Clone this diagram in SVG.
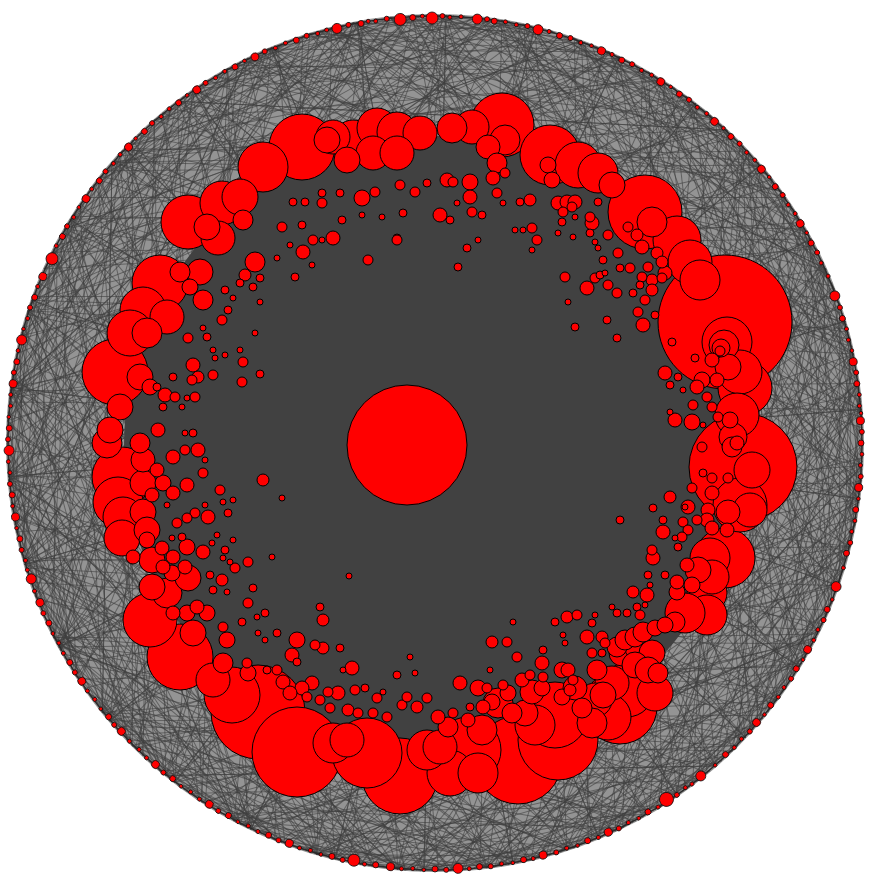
<svg xmlns="http://www.w3.org/2000/svg" xmlns:xlink="http://www.w3.org/1999/xlink" width="870" height="880" viewBox="0 0 870 880">
<style>
.nodes circle{fill:#ff0000;stroke:#000;stroke-width:1}
.rim circle{fill:#ff0000;stroke:#111;stroke-width:0.8}
</style>
<defs>
<g id="chA">
<line x1="428" y1="0" x2="396.8" y2="160.3"/><line x1="428" y1="0" x2="291.9" y2="313"/><line x1="428" y1="0" x2="125.1" y2="409.3"/><line x1="428" y1="0" x2="366.9" y2="-220.4"/><line x1="428" y1="0" x2="226.8" y2="-362.9"/><line x1="428" y1="0" x2="-44.7" y2="-425.7"/><line x1="428" y1="0" x2="-200.9" y2="377.9"/>
</g>
<g id="chB">
<line x1="428" y1="0" x2="413.4" y2="110.8"/><line x1="428" y1="0" x2="337.3" y2="263.5"/><line x1="428" y1="0" x2="200.9" y2="377.9"/><line x1="428" y1="0" x2="381.3" y2="-194.3"/><line x1="428" y1="0" x2="263.5" y2="-337.3"/><line x1="428" y1="0" x2="37.3" y2="-426.4"/><line x1="428" y1="0" x2="-327.9" y2="275.1"/>
</g>
<g id="chC">
<line x1="428" y1="0" x2="377.9" y2="200.9"/><line x1="428" y1="0" x2="245.5" y2="350.6"/><line x1="428" y1="0" x2="0" y2="428"/><line x1="428" y1="0" x2="404.7" y2="-139.3"/><line x1="428" y1="0" x2="318.1" y2="-286.4"/><line x1="428" y1="0" x2="146.4" y2="-402.2"/><line x1="428" y1="0" x2="-245.5" y2="-350.6"/>
</g>
<g id="chD">
<line x1="428" y1="0" x2="74.3" y2="421.5"/><line x1="428" y1="0" x2="-74.3" y2="421.5"/><line x1="428" y1="0" x2="-302.6" y2="302.6"/><line x1="428" y1="0" x2="-413.4" y2="110.8"/><line x1="428" y1="0" x2="74.3" y2="-421.5"/><line x1="428" y1="0" x2="-146.4" y2="-402.2"/><line x1="428" y1="0" x2="-370.7" y2="-214"/>
</g>
<g id="chE">
<line x1="428" y1="0" x2="-37.3" y2="426.4"/><line x1="428" y1="0" x2="-180.9" y2="387.9"/><line x1="428" y1="0" x2="-350.6" y2="245.5"/><line x1="428" y1="0" x2="-428" y2="0"/><line x1="428" y1="0" x2="-74.3" y2="-421.5"/><line x1="428" y1="0" x2="-245.5" y2="-350.6"/><line x1="428" y1="0" x2="-421.5" y2="-74.3"/>
</g>
</defs>
<rect width="870" height="880" fill="#fff"/>
<g id="connectors">
<circle cx="435" cy="443" r="429" fill="#949494"/>
<g stroke="#404040" stroke-opacity="0.6" stroke-width="1" fill="none">
<use href="#chA" transform="translate(435 443) rotate(0)"/><use href="#chA" transform="translate(435 443) rotate(17)"/><use href="#chA" transform="translate(435 443) rotate(35)"/><use href="#chA" transform="translate(435 443) rotate(52)"/><use href="#chA" transform="translate(435 443) rotate(71)"/><use href="#chA" transform="translate(435 443) rotate(88)"/><use href="#chA" transform="translate(435 443) rotate(106)"/><use href="#chA" transform="translate(435 443) rotate(123)"/><use href="#chA" transform="translate(435 443) rotate(141)"/><use href="#chA" transform="translate(435 443) rotate(159)"/><use href="#chA" transform="translate(435 443) rotate(176)"/><use href="#chA" transform="translate(435 443) rotate(194)"/><use href="#chA" transform="translate(435 443) rotate(212)"/><use href="#chA" transform="translate(435 443) rotate(229)"/><use href="#chA" transform="translate(435 443) rotate(247)"/><use href="#chA" transform="translate(435 443) rotate(264)"/><use href="#chA" transform="translate(435 443) rotate(282)"/><use href="#chA" transform="translate(435 443) rotate(300)"/><use href="#chA" transform="translate(435 443) rotate(317)"/><use href="#chA" transform="translate(435 443) rotate(335)"/><use href="#chA" transform="translate(435 443) rotate(352)"/>
<use href="#chB" transform="translate(435 443) rotate(5)"/><use href="#chB" transform="translate(435 443) rotate(23)"/><use href="#chB" transform="translate(435 443) rotate(41)"/><use href="#chB" transform="translate(435 443) rotate(58)"/><use href="#chB" transform="translate(435 443) rotate(77)"/><use href="#chB" transform="translate(435 443) rotate(94)"/><use href="#chB" transform="translate(435 443) rotate(112)"/><use href="#chB" transform="translate(435 443) rotate(130)"/><use href="#chB" transform="translate(435 443) rotate(147)"/><use href="#chB" transform="translate(435 443) rotate(165)"/><use href="#chB" transform="translate(435 443) rotate(183)"/><use href="#chB" transform="translate(435 443) rotate(200)"/><use href="#chB" transform="translate(435 443) rotate(218)"/><use href="#chB" transform="translate(435 443) rotate(236)"/><use href="#chB" transform="translate(435 443) rotate(253)"/><use href="#chB" transform="translate(435 443) rotate(271)"/><use href="#chB" transform="translate(435 443) rotate(289)"/><use href="#chB" transform="translate(435 443) rotate(306)"/><use href="#chB" transform="translate(435 443) rotate(324)"/><use href="#chB" transform="translate(435 443) rotate(341)"/>
<use href="#chC" transform="translate(435 443) rotate(11)"/><use href="#chC" transform="translate(435 443) rotate(29)"/><use href="#chC" transform="translate(435 443) rotate(46)"/><use href="#chC" transform="translate(435 443) rotate(64)"/><use href="#chC" transform="translate(435 443) rotate(82)"/><use href="#chC" transform="translate(435 443) rotate(100)"/><use href="#chC" transform="translate(435 443) rotate(117)"/><use href="#chC" transform="translate(435 443) rotate(135)"/><use href="#chC" transform="translate(435 443) rotate(153)"/><use href="#chC" transform="translate(435 443) rotate(170)"/><use href="#chC" transform="translate(435 443) rotate(188)"/><use href="#chC" transform="translate(435 443) rotate(206)"/><use href="#chC" transform="translate(435 443) rotate(223)"/><use href="#chC" transform="translate(435 443) rotate(241)"/><use href="#chC" transform="translate(435 443) rotate(259)"/><use href="#chC" transform="translate(435 443) rotate(276)"/><use href="#chC" transform="translate(435 443) rotate(294)"/><use href="#chC" transform="translate(435 443) rotate(311)"/><use href="#chC" transform="translate(435 443) rotate(329)"/><use href="#chC" transform="translate(435 443) rotate(346)"/>
<use href="#chD" transform="translate(435 443) rotate(3)"/><use href="#chD" transform="translate(435 443) rotate(14)"/><use href="#chD" transform="translate(435 443) rotate(26)"/><use href="#chD" transform="translate(435 443) rotate(37)"/><use href="#chD" transform="translate(435 443) rotate(49)"/><use href="#chD" transform="translate(435 443) rotate(60)"/><use href="#chD" transform="translate(435 443) rotate(72)"/><use href="#chD" transform="translate(435 443) rotate(83)"/><use href="#chD" transform="translate(435 443) rotate(95)"/><use href="#chD" transform="translate(435 443) rotate(106)"/><use href="#chD" transform="translate(435 443) rotate(118)"/><use href="#chD" transform="translate(435 443) rotate(129)"/><use href="#chD" transform="translate(435 443) rotate(141)"/><use href="#chD" transform="translate(435 443) rotate(152)"/><use href="#chD" transform="translate(435 443) rotate(164)"/><use href="#chD" transform="translate(435 443) rotate(175)"/><use href="#chD" transform="translate(435 443) rotate(187)"/><use href="#chD" transform="translate(435 443) rotate(198)"/><use href="#chD" transform="translate(435 443) rotate(210)"/><use href="#chD" transform="translate(435 443) rotate(221)"/><use href="#chD" transform="translate(435 443) rotate(233)"/><use href="#chD" transform="translate(435 443) rotate(244)"/><use href="#chD" transform="translate(435 443) rotate(256)"/><use href="#chD" transform="translate(435 443) rotate(267)"/><use href="#chD" transform="translate(435 443) rotate(279)"/><use href="#chD" transform="translate(435 443) rotate(290)"/><use href="#chD" transform="translate(435 443) rotate(302)"/><use href="#chD" transform="translate(435 443) rotate(313)"/><use href="#chD" transform="translate(435 443) rotate(325)"/><use href="#chD" transform="translate(435 443) rotate(336)"/><use href="#chD" transform="translate(435 443) rotate(348)"/>
<use href="#chE" transform="translate(435 443) rotate(7.5)"/><use href="#chE" transform="translate(435 443) rotate(19.5)"/><use href="#chE" transform="translate(435 443) rotate(31.5)"/><use href="#chE" transform="translate(435 443) rotate(43.5)"/><use href="#chE" transform="translate(435 443) rotate(55.5)"/><use href="#chE" transform="translate(435 443) rotate(67.5)"/><use href="#chE" transform="translate(435 443) rotate(79.5)"/><use href="#chE" transform="translate(435 443) rotate(91.5)"/><use href="#chE" transform="translate(435 443) rotate(103.5)"/><use href="#chE" transform="translate(435 443) rotate(115.5)"/><use href="#chE" transform="translate(435 443) rotate(127.5)"/><use href="#chE" transform="translate(435 443) rotate(139.5)"/><use href="#chE" transform="translate(435 443) rotate(151.5)"/><use href="#chE" transform="translate(435 443) rotate(163.5)"/><use href="#chE" transform="translate(435 443) rotate(175.5)"/><use href="#chE" transform="translate(435 443) rotate(187.5)"/><use href="#chE" transform="translate(435 443) rotate(199.5)"/><use href="#chE" transform="translate(435 443) rotate(211.5)"/><use href="#chE" transform="translate(435 443) rotate(223.5)"/><use href="#chE" transform="translate(435 443) rotate(235.5)"/><use href="#chE" transform="translate(435 443) rotate(247.5)"/><use href="#chE" transform="translate(435 443) rotate(259.5)"/><use href="#chE" transform="translate(435 443) rotate(271.5)"/><use href="#chE" transform="translate(435 443) rotate(283.5)"/><use href="#chE" transform="translate(435 443) rotate(295.5)"/><use href="#chE" transform="translate(435 443) rotate(307.5)"/><use href="#chE" transform="translate(435 443) rotate(319.5)"/><use href="#chE" transform="translate(435 443) rotate(331.5)"/><use href="#chE" transform="translate(435 443) rotate(343.5)"/><use href="#chE" transform="translate(435 443) rotate(355.5)"/>
</g>
<circle cx="434" cy="446" r="310" fill="#414141"/>
<circle cx="435" cy="443" r="427" fill="none" stroke="#2a2a2a" stroke-width="1.4"/>
</g>
<g class="rim">
<g id="r1" transform="rotate(0 435 443)"><circle cx="861" cy="443" r="3"/></g>
<g id="r2" transform="rotate(3 435 443)"><circle cx="861" cy="443" r="2"/></g>
<g id="r3" transform="rotate(6 435 443)"><circle cx="861" cy="443" r="4"/></g>
<g id="r4" transform="rotate(9 435 443)"><circle cx="861" cy="443" r="3"/></g>
<g id="r5" transform="rotate(12 435 443)"><circle cx="861" cy="443" r="2"/></g>
<g id="r6" transform="rotate(15 435 443)"><circle cx="861" cy="443" r="3"/></g>
<g id="r7" transform="rotate(19.7 435 443)"><circle cx="861" cy="443" r="5"/></g>
<g id="r8" transform="rotate(23 435 443)"><circle cx="861" cy="443" r="3"/></g>
<g id="r9" transform="rotate(26 435 443)"><circle cx="861" cy="443" r="2"/></g>
<g id="r10" transform="rotate(29 435 443)"><circle cx="861" cy="443" r="4"/></g>
<g id="r11" transform="rotate(32 435 443)"><circle cx="861" cy="443" r="3"/></g>
<g id="r12" transform="rotate(35 435 443)"><circle cx="861" cy="443" r="2"/></g>
<g id="r13" transform="rotate(38 435 443)"><circle cx="861" cy="443" r="3"/></g>
<g id="r14" transform="rotate(41 435 443)"><circle cx="861" cy="443" r="4"/></g>
<g id="r15" transform="rotate(44 435 443)"><circle cx="861" cy="443" r="2"/></g>
<g id="r16" transform="rotate(47 435 443)"><circle cx="861" cy="443" r="3"/></g>
<g id="r17" transform="rotate(51.4 435 443)"><circle cx="861" cy="443" r="5"/></g>
<g id="r18" transform="rotate(54 435 443)"><circle cx="861" cy="443" r="2"/></g>
<g id="r19" transform="rotate(57 435 443)"><circle cx="860" cy="443" r="7"/></g>
<g id="r20" transform="rotate(60 435 443)"><circle cx="861" cy="443" r="3"/></g>
<g id="r21" transform="rotate(63 435 443)"><circle cx="861" cy="443" r="2"/></g>
<g id="r22" transform="rotate(66 435 443)"><circle cx="861" cy="443" r="4"/></g>
<g id="r23" transform="rotate(69 435 443)"><circle cx="861" cy="443" r="3"/></g>
<g id="r24" transform="rotate(72 435 443)"><circle cx="861" cy="443" r="2"/></g>
<g id="r25" transform="rotate(75.3 435 443)"><circle cx="861" cy="443" r="4"/></g>
<g id="r26" transform="rotate(78 435 443)"><circle cx="861" cy="443" r="3"/></g>
<g id="r27" transform="rotate(81 435 443)"><circle cx="861" cy="443" r="2"/></g>
<g id="r28" transform="rotate(84 435 443)"><circle cx="861" cy="443" r="3"/></g>
<g id="r29" transform="rotate(86.9 435 443)"><circle cx="861" cy="443" r="5"/></g>
<g id="r30" transform="rotate(90 435 443)"><circle cx="861" cy="443" r="3"/></g>
<g id="r31" transform="rotate(93 435 443)"><circle cx="861" cy="443" r="2"/></g>
<g id="r32" transform="rotate(96 435 443)"><circle cx="861" cy="443" r="4"/></g>
<g id="r33" transform="rotate(98 435 443)"><circle cx="861" cy="443" r="3"/></g>
<g id="r34" transform="rotate(101 435 443)"><circle cx="860" cy="443" r="6"/></g>
<g id="r35" transform="rotate(104 435 443)"><circle cx="861" cy="443" r="3"/></g>
<g id="r36" transform="rotate(107 435 443)"><circle cx="861" cy="443" r="2"/></g>
<g id="r37" transform="rotate(110 435 443)"><circle cx="861" cy="443" r="4"/></g>
<g id="r38" transform="rotate(113 435 443)"><circle cx="861" cy="443" r="3"/></g>
<g id="r39" transform="rotate(116 435 443)"><circle cx="861" cy="443" r="2"/></g>
<g id="r40" transform="rotate(119 435 443)"><circle cx="861" cy="443" r="3"/></g>
<g id="r41" transform="rotate(122 435 443)"><circle cx="861" cy="443" r="4"/></g>
<g id="r42" transform="rotate(125 435 443)"><circle cx="861" cy="443" r="2"/></g>
<g id="r43" transform="rotate(128 435 443)"><circle cx="861" cy="443" r="3"/></g>
<g id="r44" transform="rotate(131 435 443)"><circle cx="861" cy="443" r="4"/></g>
<g id="r45" transform="rotate(134 435 443)"><circle cx="861" cy="443" r="2"/></g>
<g id="r46" transform="rotate(137.4 435 443)"><circle cx="861" cy="443" r="4"/></g>
<g id="r47" transform="rotate(140 435 443)"><circle cx="861" cy="443" r="3"/></g>
<g id="r48" transform="rotate(143 435 443)"><circle cx="861" cy="443" r="2"/></g>
<g id="r49" transform="rotate(146 435 443)"><circle cx="861" cy="443" r="4"/></g>
<g id="r50" transform="rotate(149 435 443)"><circle cx="861" cy="443" r="3"/></g>
<g id="r51" transform="rotate(152 435 443)"><circle cx="861" cy="443" r="2"/></g>
<g id="r52" transform="rotate(155 435 443)"><circle cx="861" cy="443" r="3"/></g>
<g id="r53" transform="rotate(158 435 443)"><circle cx="861" cy="443" r="4"/></g>
<g id="r54" transform="rotate(161.4 435 443)"><circle cx="861" cy="443" r="5"/></g>
<g id="r55" transform="rotate(164 435 443)"><circle cx="861" cy="443" r="2"/></g>
<g id="r56" transform="rotate(167 435 443)"><circle cx="861" cy="443" r="3"/></g>
<g id="r57" transform="rotate(170 435 443)"><circle cx="861" cy="443" r="4"/></g>
<g id="r58" transform="rotate(173 435 443)"><circle cx="861" cy="443" r="3"/></g>
<g id="r59" transform="rotate(176 435 443)"><circle cx="861" cy="443" r="2"/></g>
<g id="r60" transform="rotate(179 435 443)"><circle cx="861" cy="443" r="5"/></g>
<g id="r61" transform="rotate(182 435 443)"><circle cx="861" cy="443" r="3"/></g>
<g id="r62" transform="rotate(185 435 443)"><circle cx="861" cy="443" r="2"/></g>
<g id="r63" transform="rotate(188 435 443)"><circle cx="861" cy="443" r="4"/></g>
<g id="r64" transform="rotate(191 435 443)"><circle cx="861" cy="443" r="3"/></g>
<g id="r65" transform="rotate(194 435 443)"><circle cx="861" cy="443" r="5"/></g>
<g id="r66" transform="rotate(197 435 443)"><circle cx="861" cy="443" r="2"/></g>
<g id="r67" transform="rotate(200 435 443)"><circle cx="861" cy="443" r="3"/></g>
<g id="r68" transform="rotate(203 435 443)"><circle cx="861" cy="443" r="4"/></g>
<g id="r69" transform="rotate(205.7 435 443)"><circle cx="860" cy="443" r="6"/></g>
<g id="r70" transform="rotate(209 435 443)"><circle cx="861" cy="443" r="3"/></g>
<g id="r71" transform="rotate(212 435 443)"><circle cx="861" cy="443" r="2"/></g>
<g id="r72" transform="rotate(215 435 443)"><circle cx="861" cy="443" r="4"/></g>
<g id="r73" transform="rotate(218 435 443)"><circle cx="861" cy="443" r="3"/></g>
<g id="r74" transform="rotate(221 435 443)"><circle cx="861" cy="443" r="2"/></g>
<g id="r75" transform="rotate(224 435 443)"><circle cx="861" cy="443" r="4"/></g>
<g id="r76" transform="rotate(227 435 443)"><circle cx="861" cy="443" r="3"/></g>
<g id="r77" transform="rotate(230 435 443)"><circle cx="861" cy="443" r="2"/></g>
<g id="r78" transform="rotate(233 435 443)"><circle cx="861" cy="443" r="3"/></g>
<g id="r79" transform="rotate(236 435 443)"><circle cx="861" cy="443" r="4"/></g>
<g id="r80" transform="rotate(239 435 443)"><circle cx="861" cy="443" r="2"/></g>
<g id="r81" transform="rotate(242 435 443)"><circle cx="861" cy="443" r="3"/></g>
<g id="r82" transform="rotate(245 435 443)"><circle cx="861" cy="443" r="4"/></g>
<g id="r83" transform="rotate(248 435 443)"><circle cx="861" cy="443" r="2"/></g>
<g id="r84" transform="rotate(251 435 443)"><circle cx="861" cy="443" r="3"/></g>
<g id="r85" transform="rotate(254 435 443)"><circle cx="861" cy="443" r="2"/></g>
<g id="r86" transform="rotate(256.7 435 443)"><circle cx="861" cy="443" r="5"/></g>
<g id="r87" transform="rotate(260 435 443)"><circle cx="861" cy="443" r="3"/></g>
<g id="r88" transform="rotate(262 435 443)"><circle cx="861" cy="443" r="2"/></g>
<g id="r89" transform="rotate(265.3 435 443)"><circle cx="860" cy="443" r="6"/></g>
<g id="r90" transform="rotate(267 435 443)"><circle cx="861" cy="443" r="3"/></g>
<g id="r91" transform="rotate(269.6 435 443)"><circle cx="860" cy="443" r="6"/></g>
<g id="r92" transform="rotate(272 435 443)"><circle cx="861" cy="443" r="2"/></g>
<g id="r93" transform="rotate(275.7 435 443)"><circle cx="861" cy="443" r="5"/></g>
<g id="r94" transform="rotate(278 435 443)"><circle cx="861" cy="443" r="3"/></g>
<g id="r95" transform="rotate(281 435 443)"><circle cx="861" cy="443" r="2"/></g>
<g id="r96" transform="rotate(284 435 443)"><circle cx="861" cy="443" r="5"/></g>
<g id="r97" transform="rotate(287 435 443)"><circle cx="861" cy="443" r="3"/></g>
<g id="r98" transform="rotate(290 435 443)"><circle cx="861" cy="443" r="2"/></g>
<g id="r99" transform="rotate(293 435 443)"><circle cx="861" cy="443" r="4"/></g>
<g id="r100" transform="rotate(296 435 443)"><circle cx="861" cy="443" r="3"/></g>
<g id="r101" transform="rotate(299 435 443)"><circle cx="861" cy="443" r="2"/></g>
<g id="r102" transform="rotate(302 435 443)"><circle cx="861" cy="443" r="4"/></g>
<g id="r103" transform="rotate(305 435 443)"><circle cx="861" cy="443" r="3"/></g>
<g id="r104" transform="rotate(308 435 443)"><circle cx="861" cy="443" r="2"/></g>
<g id="r105" transform="rotate(311 435 443)"><circle cx="861" cy="443" r="4"/></g>
<g id="r106" transform="rotate(314 435 443)"><circle cx="861" cy="443" r="3"/></g>
<g id="r107" transform="rotate(317 435 443)"><circle cx="861" cy="443" r="2"/></g>
<g id="r108" transform="rotate(320 435 443)"><circle cx="861" cy="443" r="4"/></g>
<g id="r109" transform="rotate(323 435 443)"><circle cx="861" cy="443" r="3"/></g>
<g id="r110" transform="rotate(326 435 443)"><circle cx="861" cy="443" r="2"/></g>
<g id="r111" transform="rotate(329 435 443)"><circle cx="861" cy="443" r="4"/></g>
<g id="r112" transform="rotate(332 435 443)"><circle cx="861" cy="443" r="3"/></g>
<g id="r113" transform="rotate(335 435 443)"><circle cx="861" cy="443" r="2"/></g>
<g id="r114" transform="rotate(339.8 435 443)"><circle cx="861" cy="443" r="5"/></g>
<g id="r115" transform="rotate(343 435 443)"><circle cx="861" cy="443" r="3"/></g>
<g id="r116" transform="rotate(346 435 443)"><circle cx="861" cy="443" r="2"/></g>
<g id="r117" transform="rotate(349 435 443)"><circle cx="861" cy="443" r="4"/></g>
<g id="r118" transform="rotate(352 435 443)"><circle cx="861" cy="443" r="3"/></g>
<g id="r119" transform="rotate(355 435 443)"><circle cx="861" cy="443" r="2"/></g>
<g id="r120" transform="rotate(357 435 443)"><circle cx="861" cy="443" r="4"/></g>
<g id="s1" transform="rotate(1.5 435 443)"><circle cx="862" cy="443" r="2"/></g>
<g id="s2" transform="rotate(4.5 435 443)"><circle cx="862" cy="443" r="2.5"/></g>
<g id="s3" transform="rotate(7.5 435 443)"><circle cx="862" cy="443" r="1.8"/></g>
<g id="s4" transform="rotate(10.5 435 443)"><circle cx="862" cy="443" r="2"/></g>
<g id="s5" transform="rotate(13.5 435 443)"><circle cx="862" cy="443" r="2.5"/></g>
<g id="s6" transform="rotate(17 435 443)"><circle cx="862" cy="443" r="2"/></g>
<g id="s7" transform="rotate(21.5 435 443)"><circle cx="862" cy="443" r="1.8"/></g>
<g id="s8" transform="rotate(24.5 435 443)"><circle cx="862" cy="443" r="2.5"/></g>
<g id="s9" transform="rotate(27.5 435 443)"><circle cx="862" cy="443" r="2"/></g>
<g id="s10" transform="rotate(30.5 435 443)"><circle cx="862" cy="443" r="1.8"/></g>
<g id="s11" transform="rotate(33.5 435 443)"><circle cx="862" cy="443" r="2.5"/></g>
<g id="s12" transform="rotate(36.5 435 443)"><circle cx="862" cy="443" r="2"/></g>
<g id="s13" transform="rotate(39.5 435 443)"><circle cx="862" cy="443" r="1.8"/></g>
<g id="s14" transform="rotate(42.5 435 443)"><circle cx="862" cy="443" r="2.5"/></g>
<g id="s15" transform="rotate(45.5 435 443)"><circle cx="862" cy="443" r="2"/></g>
<g id="s16" transform="rotate(49 435 443)"><circle cx="862" cy="443" r="1.8"/></g>
<g id="s17" transform="rotate(53 435 443)"><circle cx="862" cy="443" r="2"/></g>
<g id="s18" transform="rotate(55.5 435 443)"><circle cx="862" cy="443" r="2.5"/></g>
<g id="s19" transform="rotate(58.5 435 443)"><circle cx="862" cy="443" r="2"/></g>
<g id="s20" transform="rotate(61.5 435 443)"><circle cx="862" cy="443" r="1.8"/></g>
<g id="s21" transform="rotate(64.5 435 443)"><circle cx="862" cy="443" r="2.5"/></g>
<g id="s22" transform="rotate(67.5 435 443)"><circle cx="862" cy="443" r="2"/></g>
<g id="s23" transform="rotate(70.5 435 443)"><circle cx="862" cy="443" r="1.8"/></g>
<g id="s24" transform="rotate(73.5 435 443)"><circle cx="862" cy="443" r="2.5"/></g>
<g id="s25" transform="rotate(76.7 435 443)"><circle cx="862" cy="443" r="2"/></g>
<g id="s26" transform="rotate(79.5 435 443)"><circle cx="862" cy="443" r="1.8"/></g>
<g id="s27" transform="rotate(82.5 435 443)"><circle cx="862" cy="443" r="2.5"/></g>
<g id="s28" transform="rotate(85.4 435 443)"><circle cx="862" cy="443" r="2"/></g>
<g id="s29" transform="rotate(88.5 435 443)"><circle cx="862" cy="443" r="2.5"/></g>
<g id="s30" transform="rotate(91.5 435 443)"><circle cx="862" cy="443" r="1.8"/></g>
<g id="s31" transform="rotate(94.5 435 443)"><circle cx="862" cy="443" r="2"/></g>
<g id="s32" transform="rotate(99.5 435 443)"><circle cx="862" cy="443" r="2"/></g>
<g id="s33" transform="rotate(102.5 435 443)"><circle cx="862" cy="443" r="2.5"/></g>
<g id="s34" transform="rotate(105.5 435 443)"><circle cx="862" cy="443" r="1.8"/></g>
<g id="s35" transform="rotate(108.5 435 443)"><circle cx="862" cy="443" r="2"/></g>
<g id="s36" transform="rotate(111.5 435 443)"><circle cx="862" cy="443" r="2.5"/></g>
<g id="s37" transform="rotate(114.5 435 443)"><circle cx="862" cy="443" r="2"/></g>
<g id="s38" transform="rotate(117.5 435 443)"><circle cx="862" cy="443" r="1.8"/></g>
<g id="s39" transform="rotate(120.5 435 443)"><circle cx="862" cy="443" r="2.5"/></g>
<g id="s40" transform="rotate(123.5 435 443)"><circle cx="862" cy="443" r="2"/></g>
<g id="s41" transform="rotate(126.5 435 443)"><circle cx="862" cy="443" r="1.8"/></g>
<g id="s42" transform="rotate(129.5 435 443)"><circle cx="862" cy="443" r="2.5"/></g>
<g id="s43" transform="rotate(132.5 435 443)"><circle cx="862" cy="443" r="2"/></g>
<g id="s44" transform="rotate(135.7 435 443)"><circle cx="862" cy="443" r="2"/></g>
<g id="s45" transform="rotate(138.7 435 443)"><circle cx="862" cy="443" r="2.5"/></g>
<g id="s46" transform="rotate(141.5 435 443)"><circle cx="862" cy="443" r="1.8"/></g>
<g id="s47" transform="rotate(144.5 435 443)"><circle cx="862" cy="443" r="2"/></g>
<g id="s48" transform="rotate(147.5 435 443)"><circle cx="862" cy="443" r="2.5"/></g>
<g id="s49" transform="rotate(150.5 435 443)"><circle cx="862" cy="443" r="2"/></g>
<g id="s50" transform="rotate(153.5 435 443)"><circle cx="862" cy="443" r="1.8"/></g>
<g id="s51" transform="rotate(156.5 435 443)"><circle cx="862" cy="443" r="2.5"/></g>
<g id="s52" transform="rotate(159.7 435 443)"><circle cx="862" cy="443" r="2"/></g>
<g id="s53" transform="rotate(162.7 435 443)"><circle cx="862" cy="443" r="2"/></g>
<g id="s54" transform="rotate(165.5 435 443)"><circle cx="862" cy="443" r="2.5"/></g>
<g id="s55" transform="rotate(168.5 435 443)"><circle cx="862" cy="443" r="1.8"/></g>
<g id="s56" transform="rotate(171.5 435 443)"><circle cx="862" cy="443" r="2"/></g>
<g id="s57" transform="rotate(174.5 435 443)"><circle cx="862" cy="443" r="2.5"/></g>
<g id="s58" transform="rotate(177.5 435 443)"><circle cx="862" cy="443" r="2"/></g>
<g id="s59" transform="rotate(180.5 435 443)"><circle cx="862" cy="443" r="2.5"/></g>
<g id="s60" transform="rotate(183.5 435 443)"><circle cx="862" cy="443" r="1.8"/></g>
<g id="s61" transform="rotate(186.5 435 443)"><circle cx="862" cy="443" r="2"/></g>
<g id="s62" transform="rotate(189.5 435 443)"><circle cx="862" cy="443" r="2.5"/></g>
<g id="s63" transform="rotate(192.5 435 443)"><circle cx="862" cy="443" r="2"/></g>
<g id="s64" transform="rotate(195.5 435 443)"><circle cx="862" cy="443" r="1.8"/></g>
<g id="s65" transform="rotate(198.5 435 443)"><circle cx="862" cy="443" r="2.5"/></g>
<g id="s66" transform="rotate(201.5 435 443)"><circle cx="862" cy="443" r="2"/></g>
<g id="s67" transform="rotate(207.5 435 443)"><circle cx="862" cy="443" r="2"/></g>
<g id="s68" transform="rotate(210.5 435 443)"><circle cx="862" cy="443" r="2.5"/></g>
<g id="s69" transform="rotate(213.5 435 443)"><circle cx="862" cy="443" r="1.8"/></g>
<g id="s70" transform="rotate(216.5 435 443)"><circle cx="862" cy="443" r="2"/></g>
<g id="s71" transform="rotate(219.5 435 443)"><circle cx="862" cy="443" r="2.5"/></g>
<g id="s72" transform="rotate(222.5 435 443)"><circle cx="862" cy="443" r="2"/></g>
<g id="s73" transform="rotate(225.5 435 443)"><circle cx="862" cy="443" r="1.8"/></g>
<g id="s74" transform="rotate(228.5 435 443)"><circle cx="862" cy="443" r="2.5"/></g>
<g id="s75" transform="rotate(231.5 435 443)"><circle cx="862" cy="443" r="2"/></g>
<g id="s76" transform="rotate(234.5 435 443)"><circle cx="862" cy="443" r="1.8"/></g>
<g id="s77" transform="rotate(237.5 435 443)"><circle cx="862" cy="443" r="2.5"/></g>
<g id="s78" transform="rotate(240.5 435 443)"><circle cx="862" cy="443" r="2"/></g>
<g id="s79" transform="rotate(243.5 435 443)"><circle cx="862" cy="443" r="1.8"/></g>
<g id="s80" transform="rotate(246.5 435 443)"><circle cx="862" cy="443" r="2.5"/></g>
<g id="s81" transform="rotate(249.5 435 443)"><circle cx="862" cy="443" r="2"/></g>
<g id="s82" transform="rotate(252.5 435 443)"><circle cx="862" cy="443" r="2.5"/></g>
<g id="s83" transform="rotate(255.3 435 443)"><circle cx="862" cy="443" r="2"/></g>
<g id="s84" transform="rotate(258.3 435 443)"><circle cx="862" cy="443" r="2.5"/></g>
<g id="s85" transform="rotate(261 435 443)"><circle cx="862" cy="443" r="2"/></g>
<g id="s86" transform="rotate(263.5 435 443)"><circle cx="862" cy="443" r="2.5"/></g>
<g id="s87" transform="rotate(268.3 435 443)"><circle cx="862" cy="443" r="2"/></g>
<g id="s88" transform="rotate(271 435 443)"><circle cx="862" cy="443" r="2.5"/></g>
<g id="s89" transform="rotate(273.5 435 443)"><circle cx="862" cy="443" r="2"/></g>
<g id="s90" transform="rotate(277 435 443)"><circle cx="862" cy="443" r="2.5"/></g>
<g id="s91" transform="rotate(279.5 435 443)"><circle cx="862" cy="443" r="2"/></g>
<g id="s92" transform="rotate(282.5 435 443)"><circle cx="862" cy="443" r="2.5"/></g>
<g id="s93" transform="rotate(285.5 435 443)"><circle cx="862" cy="443" r="2"/></g>
<g id="s94" transform="rotate(288.5 435 443)"><circle cx="862" cy="443" r="2.5"/></g>
<g id="s95" transform="rotate(291.5 435 443)"><circle cx="862" cy="443" r="1.8"/></g>
<g id="s96" transform="rotate(294.5 435 443)"><circle cx="862" cy="443" r="2"/></g>
<g id="s97" transform="rotate(297.5 435 443)"><circle cx="862" cy="443" r="2.5"/></g>
<g id="s98" transform="rotate(300.5 435 443)"><circle cx="862" cy="443" r="2"/></g>
<g id="s99" transform="rotate(303.5 435 443)"><circle cx="862" cy="443" r="1.8"/></g>
<g id="s100" transform="rotate(306.5 435 443)"><circle cx="862" cy="443" r="2.5"/></g>
<g id="s101" transform="rotate(309.5 435 443)"><circle cx="862" cy="443" r="2"/></g>
<g id="s102" transform="rotate(312.5 435 443)"><circle cx="862" cy="443" r="1.8"/></g>
<g id="s103" transform="rotate(315.5 435 443)"><circle cx="862" cy="443" r="2.5"/></g>
<g id="s104" transform="rotate(318.5 435 443)"><circle cx="862" cy="443" r="2"/></g>
<g id="s105" transform="rotate(321.5 435 443)"><circle cx="862" cy="443" r="1.8"/></g>
<g id="s106" transform="rotate(324.5 435 443)"><circle cx="862" cy="443" r="2.5"/></g>
<g id="s107" transform="rotate(327.5 435 443)"><circle cx="862" cy="443" r="2"/></g>
<g id="s108" transform="rotate(330.5 435 443)"><circle cx="862" cy="443" r="1.8"/></g>
<g id="s109" transform="rotate(333.5 435 443)"><circle cx="862" cy="443" r="2.5"/></g>
<g id="s110" transform="rotate(337 435 443)"><circle cx="862" cy="443" r="2"/></g>
<g id="s111" transform="rotate(341.5 435 443)"><circle cx="862" cy="443" r="2.5"/></g>
<g id="s112" transform="rotate(344.5 435 443)"><circle cx="862" cy="443" r="2"/></g>
<g id="s113" transform="rotate(347.5 435 443)"><circle cx="862" cy="443" r="1.8"/></g>
<g id="s114" transform="rotate(350.5 435 443)"><circle cx="862" cy="443" r="2.5"/></g>
<g id="s115" transform="rotate(353.5 435 443)"><circle cx="862" cy="443" r="2"/></g>
<g id="s116" transform="rotate(356 435 443)"><circle cx="862" cy="443" r="1.8"/></g>
<g id="s117" transform="rotate(358.5 435 443)"><circle cx="862" cy="443" r="2.5"/></g>
</g>
<g class="nodes">
<g id="n1"><circle cx="725" cy="322" r="67"/></g>
<g id="n2"><circle cx="407" cy="445" r="60"/></g>
<g id="n3"><circle cx="743" cy="467" r="54"/></g>
<g id="n4"><circle cx="258" cy="712" r="47"/></g>
<g id="n5"><circle cx="297" cy="752" r="45"/></g>
<g id="n6"><circle cx="518" cy="760" r="44"/></g>
<g id="n7"><circle cx="558" cy="740" r="40"/></g>
<g id="n8"><circle cx="400" cy="776" r="38"/></g>
<g id="n9"><circle cx="645" cy="212" r="37"/></g>
<g id="n10"><circle cx="620" cy="707" r="37"/></g>
<g id="n11"><circle cx="367" cy="753" r="35"/></g>
<g id="n12"><circle cx="302" cy="147" r="33"/></g>
<g id="n13"><circle cx="115" cy="372" r="33"/></g>
<g id="n14"><circle cx="180" cy="657" r="33"/></g>
<g id="n15"><circle cx="468" cy="750" r="33"/></g>
<g id="n16"><circle cx="555" cy="715" r="33"/></g>
<g id="n17"><circle cx="502" cy="125" r="32"/></g>
<g id="n18"><circle cx="550" cy="155" r="30"/></g>
<g id="n19"><circle cx="122" cy="477" r="30"/></g>
<g id="n20"><circle cx="725" cy="558" r="30"/></g>
<g id="n21"><circle cx="232" cy="695" r="28"/></g>
<g id="n22"><circle cx="160" cy="283" r="28"/></g>
<g id="n23"><circle cx="188" cy="222" r="27"/></g>
<g id="n24"><circle cx="150" cy="620" r="27"/></g>
<g id="n25"><circle cx="627" cy="690" r="27"/></g>
<g id="n26"><circle cx="740" cy="505" r="27"/></g>
<g id="n27"><circle cx="745" cy="388" r="27"/></g>
<g id="n28"><circle cx="677" cy="240" r="24"/></g>
<g id="n29"><circle cx="263" cy="167" r="25"/></g>
<g id="n30"><circle cx="118" cy="502" r="25"/></g>
<g id="n31"><circle cx="727" cy="342" r="25"/></g>
<g id="n32"><circle cx="578" cy="165" r="23"/></g>
<g id="n33"><circle cx="143" cy="310" r="23"/></g>
<g id="n34"><circle cx="130" cy="333" r="23"/></g>
<g id="n35"><circle cx="740" cy="372" r="22"/></g>
<g id="n36"><circle cx="608" cy="717" r="23"/></g>
<g id="n37"><circle cx="450" cy="773" r="23"/></g>
<g id="n38"><circle cx="690" cy="262" r="22"/></g>
<g id="n39"><circle cx="737" cy="415" r="22"/></g>
<g id="n40"><circle cx="222" cy="203" r="22"/></g>
<g id="n41"><circle cx="598" cy="173" r="20"/></g>
<g id="n42"><circle cx="700" cy="280" r="20"/></g>
<g id="n43"><circle cx="707" cy="593" r="20"/></g>
<g id="n44"><circle cx="707" cy="615" r="20"/></g>
<g id="n45"><circle cx="710" cy="558" r="20"/></g>
<g id="n46"><circle cx="685" cy="613" r="20"/></g>
<g id="n47"><circle cx="535" cy="725" r="20"/></g>
<g id="n48"><circle cx="478" cy="773" r="20"/></g>
<g id="n49"><circle cx="427" cy="750" r="20"/></g>
<g id="n50"><circle cx="333" cy="743" r="20"/></g>
<g id="n51"><circle cx="123" cy="517" r="20"/></g>
<g id="n52"><circle cx="353" cy="140" r="20"/></g>
<g id="n53"><circle cx="377" cy="128" r="20"/></g>
<g id="n54"><circle cx="397" cy="132" r="20"/></g>
<g id="n55"><circle cx="240" cy="197" r="18"/></g>
<g id="n56"><circle cx="122" cy="538" r="18"/></g>
<g id="n57"><circle cx="752" cy="470" r="18"/></g>
<g id="n58"><circle cx="655" cy="693" r="18"/></g>
<g id="n59"><circle cx="333" cy="137" r="17"/></g>
<g id="n60"><circle cx="420" cy="133" r="17"/></g>
<g id="n61"><circle cx="373" cy="153" r="17"/></g>
<g id="n62"><circle cx="397" cy="153" r="17"/></g>
<g id="n63"><circle cx="218" cy="238" r="17"/></g>
<g id="n64"><circle cx="167" cy="317" r="17"/></g>
<g id="n65"><circle cx="472" cy="127" r="17"/></g>
<g id="n66"><circle cx="213" cy="680" r="17"/></g>
<g id="n67"><circle cx="712" cy="577" r="17"/></g>
<g id="n68"><circle cx="612" cy="683" r="17"/></g>
<g id="n69"><circle cx="595" cy="700" r="17"/></g>
<g id="n70"><circle cx="440" cy="747" r="17"/></g>
<g id="n71"><circle cx="347" cy="740" r="17"/></g>
<g id="n72"><circle cx="750" cy="510" r="17"/></g>
<g id="n73"><circle cx="452" cy="128" r="15"/></g>
<g id="n74"><circle cx="505" cy="140" r="15"/></g>
<g id="n75"><circle cx="147" cy="333" r="15"/></g>
<g id="n76"><circle cx="652" cy="222" r="15"/></g>
<g id="n77"><circle cx="592" cy="723" r="15"/></g>
<g id="n78"><circle cx="498" cy="703" r="15"/></g>
<g id="n79"><circle cx="482" cy="730" r="15"/></g>
<g id="n80"><circle cx="167" cy="593" r="15"/></g>
<g id="n81"><circle cx="107" cy="443" r="15"/></g>
<g id="n82"><circle cx="724" cy="345" r="15"/></g>
<g id="n83"><circle cx="733" cy="437" r="14"/></g>
<g id="n84"><circle cx="347" cy="160" r="13"/></g>
<g id="n85"><circle cx="327" cy="140" r="13"/></g>
<g id="n86"><circle cx="207" cy="227" r="13"/></g>
<g id="n87"><circle cx="200" cy="272" r="13"/></g>
<g id="n88"><circle cx="140" cy="377" r="13"/></g>
<g id="n89"><circle cx="120" cy="407" r="13"/></g>
<g id="n90"><circle cx="110" cy="430" r="13"/></g>
<g id="n91"><circle cx="612" cy="185" r="13"/></g>
<g id="n92"><circle cx="728" cy="367" r="13"/></g>
<g id="n93"><circle cx="698" cy="570" r="13"/></g>
<g id="n94"><circle cx="622" cy="653" r="13"/></g>
<g id="n95"><circle cx="638" cy="648" r="13"/></g>
<g id="n96"><circle cx="652" cy="653" r="13"/></g>
<g id="n97"><circle cx="635" cy="665" r="13"/></g>
<g id="n98"><circle cx="648" cy="670" r="13"/></g>
<g id="n99"><circle cx="603" cy="695" r="13"/></g>
<g id="n100"><circle cx="525" cy="713" r="13"/></g>
<g id="n101"><circle cx="152" cy="587" r="13"/></g>
<g id="n102"><circle cx="193" cy="633" r="13"/></g>
<g id="n103"><circle cx="188" cy="578" r="13"/></g>
<g id="n104"><circle cx="152" cy="560" r="13"/></g>
<g id="n105"><circle cx="143" cy="512" r="13"/></g>
<g id="n106"><circle cx="147" cy="530" r="13"/></g>
<g id="n107"><circle cx="143" cy="483" r="13"/></g>
<g id="n108"><circle cx="488" cy="147" r="12"/></g>
<g id="n109"><circle cx="143" cy="460" r="12"/></g>
<g id="n110"><circle cx="728" cy="512" r="12"/></g>
<g id="n111"><circle cx="575" cy="688" r="12"/></g>
<g id="n112"><circle cx="532" cy="692" r="12"/></g>
<g id="n113"><circle cx="243" cy="220" r="10"/></g>
<g id="n114"><circle cx="180" cy="272" r="10"/></g>
<g id="n115"><circle cx="203" cy="300" r="10"/></g>
<g id="n116"><circle cx="255" cy="262" r="10"/></g>
<g id="n117"><circle cx="497" cy="163" r="10"/></g>
<g id="n118"><circle cx="721" cy="348" r="9"/></g>
<g id="n119"><circle cx="732" cy="447" r="10"/></g>
<g id="n120"><circle cx="658" cy="673" r="10"/></g>
<g id="n121"><circle cx="597" cy="670" r="10"/></g>
<g id="n122"><circle cx="617" cy="647" r="10"/></g>
<g id="n123"><circle cx="625" cy="640" r="10"/></g>
<g id="n124"><circle cx="635" cy="637" r="10"/></g>
<g id="n125"><circle cx="643" cy="632" r="10"/></g>
<g id="n126"><circle cx="675" cy="622" r="10"/></g>
<g id="n127"><circle cx="582" cy="708" r="10"/></g>
<g id="n128"><circle cx="512" cy="713" r="10"/></g>
<g id="n129"><circle cx="448" cy="727" r="10"/></g>
<g id="n130"><circle cx="223" cy="663" r="10"/></g>
<g id="n131"><circle cx="140" cy="443" r="10"/></g>
<g id="n132"><circle cx="720" cy="351" r="5"/></g>
<g id="n133"><circle cx="150" cy="387" r="8"/></g>
<g id="n134"><circle cx="190" cy="287" r="8"/></g>
<g id="n135"><circle cx="362" cy="198" r="8"/></g>
<g id="n136"><circle cx="548" cy="165" r="8"/></g>
<g id="n137"><circle cx="552" cy="180" r="8"/></g>
<g id="n138"><circle cx="470" cy="182" r="8"/></g>
<g id="n139"><circle cx="702" cy="380" r="8"/></g>
<g id="n140"><circle cx="692" cy="422" r="8"/></g>
<g id="n141"><circle cx="730" cy="420" r="8"/></g>
<g id="n142"><circle cx="655" cy="628" r="8"/></g>
<g id="n143"><circle cx="665" cy="625" r="8"/></g>
<g id="n144"><circle cx="562" cy="697" r="8"/></g>
<g id="n145"><circle cx="508" cy="693" r="8"/></g>
<g id="n146"><circle cx="542" cy="688" r="8"/></g>
<g id="n147"><circle cx="562" cy="670" r="8"/></g>
<g id="n148"><circle cx="478" cy="688" r="8"/></g>
<g id="n149"><circle cx="492" cy="702" r="8"/></g>
<g id="n150"><circle cx="297" cy="640" r="8"/></g>
<g id="n151"><circle cx="187" cy="547" r="8"/></g>
<g id="n152"><circle cx="248" cy="673" r="8"/></g>
<g id="n153"><circle cx="227" cy="640" r="8"/></g>
<g id="n154"><circle cx="207" cy="613" r="8"/></g>
<g id="n155"><circle cx="187" cy="613" r="8"/></g>
<g id="n156"><circle cx="172" cy="573" r="8"/></g>
<g id="n157"><circle cx="163" cy="483" r="8"/></g>
<g id="n158"><circle cx="147" cy="540" r="8"/></g>
<g id="n159"><circle cx="677" cy="592" r="8"/></g>
<g id="n160"><circle cx="692" cy="585" r="8"/></g>
<g id="n161"><circle cx="333" cy="238" r="7"/></g>
<g id="n162"><circle cx="303" cy="252" r="7"/></g>
<g id="n163"><circle cx="193" cy="365" r="7"/></g>
<g id="n164"><circle cx="165" cy="395" r="7"/></g>
<g id="n165"><circle cx="158" cy="430" r="7"/></g>
<g id="n166"><circle cx="493" cy="178" r="7"/></g>
<g id="n167"><circle cx="447" cy="180" r="7"/></g>
<g id="n168"><circle cx="470" cy="197" r="7"/></g>
<g id="n169"><circle cx="440" cy="215" r="7"/></g>
<g id="n170"><circle cx="558" cy="203" r="7"/></g>
<g id="n171"><circle cx="567" cy="202" r="7"/></g>
<g id="n172"><circle cx="575" cy="202" r="7"/></g>
<g id="n173"><circle cx="592" cy="223" r="7"/></g>
<g id="n174"><circle cx="642" cy="247" r="7"/></g>
<g id="n175"><circle cx="587" cy="288" r="7"/></g>
<g id="n176"><circle cx="643" cy="325" r="7"/></g>
<g id="n177"><circle cx="665" cy="373" r="7"/></g>
<g id="n178"><circle cx="675" cy="420" r="7"/></g>
<g id="n179"><circle cx="697" cy="387" r="7"/></g>
<g id="n180"><circle cx="717" cy="380" r="7"/></g>
<g id="n181"><circle cx="665" cy="273" r="7"/></g>
<g id="n182"><circle cx="712" cy="360" r="7"/></g>
<g id="n183"><circle cx="712" cy="493" r="7"/></g>
<g id="n184"><circle cx="727" cy="530" r="7"/></g>
<g id="n185"><circle cx="708" cy="510" r="7"/></g>
<g id="n186"><circle cx="707" cy="520" r="7"/></g>
<g id="n187"><circle cx="712" cy="528" r="7"/></g>
<g id="n188"><circle cx="688" cy="507" r="7"/></g>
<g id="n189"><circle cx="663" cy="532" r="7"/></g>
<g id="n190"><circle cx="687" cy="565" r="7"/></g>
<g id="n191"><circle cx="677" cy="582" r="7"/></g>
<g id="n192"><circle cx="653" cy="558" r="7"/></g>
<g id="n193"><circle cx="647" cy="595" r="7"/></g>
<g id="n194"><circle cx="587" cy="637" r="7"/></g>
<g id="n195"><circle cx="460" cy="683" r="7"/></g>
<g id="n196"><circle cx="483" cy="707" r="7"/></g>
<g id="n197"><circle cx="468" cy="720" r="7"/></g>
<g id="n198"><circle cx="438" cy="717" r="7"/></g>
<g id="n199"><circle cx="568" cy="670" r="7"/></g>
<g id="n200"><circle cx="542" cy="663" r="7"/></g>
<g id="n201"><circle cx="522" cy="680" r="7"/></g>
<g id="n202"><circle cx="152" cy="495" r="7"/></g>
<g id="n203"><circle cx="157" cy="470" r="7"/></g>
<g id="n204"><circle cx="173" cy="493" r="7"/></g>
<g id="n205"><circle cx="187" cy="485" r="7"/></g>
<g id="n206"><circle cx="198" cy="450" r="7"/></g>
<g id="n207"><circle cx="173" cy="457" r="7"/></g>
<g id="n208"><circle cx="208" cy="517" r="7"/></g>
<g id="n209"><circle cx="203" cy="552" r="7"/></g>
<g id="n210"><circle cx="292" cy="655" r="7"/></g>
<g id="n211"><circle cx="352" cy="668" r="7"/></g>
<g id="n212"><circle cx="338" cy="693" r="7"/></g>
<g id="n213"><circle cx="312" cy="683" r="7"/></g>
<g id="n214"><circle cx="302" cy="688" r="7"/></g>
<g id="n215"><circle cx="283" cy="682" r="7"/></g>
<g id="n216"><circle cx="290" cy="693" r="7"/></g>
<g id="n217"><circle cx="133" cy="557" r="7"/></g>
<g id="n218"><circle cx="197" cy="607" r="7"/></g>
<g id="n219"><circle cx="173" cy="613" r="7"/></g>
<g id="n220"><circle cx="185" cy="567" r="7"/></g>
<g id="n221"><circle cx="173" cy="557" r="7"/></g>
<g id="n222"><circle cx="162" cy="548" r="7"/></g>
<g id="n223"><circle cx="163" cy="567" r="7"/></g>
<g id="n224"><circle cx="737" cy="443" r="7"/></g>
<g id="n225"><circle cx="263" cy="480" r="6"/></g>
<g id="n226"><circle cx="530" cy="200" r="6"/></g>
<g id="n227"><circle cx="637" cy="235" r="6"/></g>
<g id="n228"><circle cx="657" cy="253" r="6"/></g>
<g id="n229"><circle cx="662" cy="262" r="6"/></g>
<g id="n230"><circle cx="652" cy="280" r="6"/></g>
<g id="n231"><circle cx="652" cy="290" r="6"/></g>
<g id="n232"><circle cx="670" cy="497" r="6"/></g>
<g id="n233"><circle cx="633" cy="592" r="6"/></g>
<g id="n234"><circle cx="567" cy="617" r="6"/></g>
<g id="n235"><circle cx="602" cy="637" r="6"/></g>
<g id="n236"><circle cx="492" cy="642" r="6"/></g>
<g id="n237"><circle cx="417" cy="707" r="6"/></g>
<g id="n238"><circle cx="348" cy="710" r="6"/></g>
<g id="n239"><circle cx="323" cy="620" r="6"/></g>
<g id="n240"><circle cx="323" cy="648" r="6"/></g>
<g id="n241"><circle cx="222" cy="580" r="6"/></g>
<g id="n242"><circle cx="198" cy="377" r="6"/></g>
<g id="n243"><circle cx="245" cy="275" r="6"/></g>
<g id="n244"><circle cx="570" cy="690" r="6"/></g>
<g id="n245"><circle cx="260" cy="374" r="4"/></g>
<g id="n246"><circle cx="242" cy="382" r="5"/></g>
<g id="n247"><circle cx="282" cy="498" r="3"/></g>
<g id="n248"><circle cx="349" cy="576" r="3"/></g>
<g id="n249"><circle cx="368" cy="260" r="5"/></g>
<g id="n250"><circle cx="397" cy="238" r="4"/></g>
<g id="n251"><circle cx="403" cy="213" r="4"/></g>
<g id="n252"><circle cx="382" cy="217" r="3"/></g>
<g id="n253"><circle cx="362" cy="215" r="3"/></g>
<g id="n254"><circle cx="342" cy="220" r="4"/></g>
<g id="n255"><circle cx="302" cy="225" r="4"/></g>
<g id="n256"><circle cx="458" cy="267" r="4"/></g>
<g id="n257"><circle cx="478" cy="240" r="3"/></g>
<g id="n258"><circle cx="467" cy="248" r="4"/></g>
<g id="n259"><circle cx="515" cy="230" r="3"/></g>
<g id="n260"><circle cx="523" cy="230" r="3"/></g>
<g id="n261"><circle cx="532" cy="228" r="5"/></g>
<g id="n262"><circle cx="537" cy="240" r="5"/></g>
<g id="n263"><circle cx="532" cy="250" r="3"/></g>
<g id="n264"><circle cx="575" cy="327" r="4"/></g>
<g id="n265"><circle cx="607" cy="320" r="4"/></g>
<g id="n266"><circle cx="568" cy="302" r="3"/></g>
<g id="n267"><circle cx="617" cy="338" r="4"/></g>
<g id="n268"><circle cx="620" cy="520" r="4"/></g>
<g id="n269"><circle cx="513" cy="622" r="3"/></g>
<g id="n270"><circle cx="490" cy="670" r="3"/></g>
<g id="n271"><circle cx="415" cy="673" r="3"/></g>
<g id="n272"><circle cx="397" cy="675" r="4"/></g>
<g id="n273"><circle cx="410" cy="657" r="3"/></g>
<g id="n274"><circle cx="320" cy="607" r="4"/></g>
<g id="n275"><circle cx="272" cy="557" r="3"/></g>
<g id="n276"><circle cx="253" cy="588" r="4"/></g>
<g id="n277"><circle cx="248" cy="603" r="5"/></g>
<g id="n278"><circle cx="265" cy="613" r="4"/></g>
<g id="n279"><circle cx="257" cy="617" r="3"/></g>
<g id="n280"><circle cx="242" cy="622" r="4"/></g>
<g id="n281"><circle cx="258" cy="633" r="3"/></g>
<g id="n282"><circle cx="265" cy="640" r="3"/></g>
<g id="n283"><circle cx="277" cy="633" r="4"/></g>
<g id="n284"><circle cx="297" cy="662" r="4"/></g>
<g id="n285"><circle cx="315" cy="645" r="5"/></g>
<g id="n286"><circle cx="340" cy="648" r="4"/></g>
<g id="n287"><circle cx="343" cy="670" r="3"/></g>
<g id="n288"><circle cx="355" cy="690" r="5"/></g>
<g id="n289"><circle cx="365" cy="688" r="4"/></g>
<g id="n290"><circle cx="377" cy="698" r="5"/></g>
<g id="n291"><circle cx="383" cy="692" r="3"/></g>
<g id="n292"><circle cx="402" cy="705" r="5"/></g>
<g id="n293"><circle cx="407" cy="697" r="5"/></g>
<g id="n294"><circle cx="427" cy="698" r="5"/></g>
<g id="n295"><circle cx="358" cy="713" r="5"/></g>
<g id="n296"><circle cx="373" cy="713" r="5"/></g>
<g id="n297"><circle cx="387" cy="717" r="5"/></g>
<g id="n298"><circle cx="328" cy="692" r="5"/></g>
<g id="n299"><circle cx="320" cy="700" r="5"/></g>
<g id="n300"><circle cx="307" cy="697" r="5"/></g>
<g id="n301"><circle cx="330" cy="708" r="5"/></g>
<g id="n302"><circle cx="277" cy="670" r="5"/></g>
<g id="n303"><circle cx="267" cy="670" r="4"/></g>
<g id="n304"><circle cx="247" cy="663" r="5"/></g>
<g id="n305"><circle cx="223" cy="627" r="5"/></g>
<g id="n306"><circle cx="235" cy="568" r="5"/></g>
<g id="n307"><circle cx="248" cy="562" r="5"/></g>
<g id="n308"><circle cx="230" cy="562" r="3"/></g>
<g id="n309"><circle cx="223" cy="558" r="3"/></g>
<g id="n310"><circle cx="225" cy="550" r="4"/></g>
<g id="n311"><circle cx="233" cy="540" r="3"/></g>
<g id="n312"><circle cx="217" cy="535" r="3"/></g>
<g id="n313"><circle cx="212" cy="543" r="3"/></g>
<g id="n314"><circle cx="228" cy="513" r="4"/></g>
<g id="n315"><circle cx="233" cy="500" r="3"/></g>
<g id="n316"><circle cx="223" cy="502" r="3"/></g>
<g id="n317"><circle cx="220" cy="490" r="5"/></g>
<g id="n318"><circle cx="205" cy="505" r="3"/></g>
<g id="n319"><circle cx="195" cy="513" r="5"/></g>
<g id="n320"><circle cx="187" cy="518" r="5"/></g>
<g id="n321"><circle cx="177" cy="523" r="5"/></g>
<g id="n322"><circle cx="167" cy="505" r="3"/></g>
<g id="n323"><circle cx="182" cy="537" r="4"/></g>
<g id="n324"><circle cx="172" cy="538" r="3"/></g>
<g id="n325"><circle cx="203" cy="473" r="5"/></g>
<g id="n326"><circle cx="185" cy="450" r="5"/></g>
<g id="n327"><circle cx="205" cy="460" r="3"/></g>
<g id="n328"><circle cx="210" cy="575" r="4"/></g>
<g id="n329"><circle cx="213" cy="590" r="4"/></g>
<g id="n330"><circle cx="227" cy="592" r="3"/></g>
<g id="n331"><circle cx="313" cy="240" r="5"/></g>
<g id="n332"><circle cx="322" cy="240" r="3"/></g>
<g id="n333"><circle cx="290" cy="245" r="3"/></g>
<g id="n334"><circle cx="277" cy="258" r="3"/></g>
<g id="n335"><circle cx="312" cy="265" r="3"/></g>
<g id="n336"><circle cx="295" cy="277" r="4"/></g>
<g id="n337"><circle cx="260" cy="278" r="4"/></g>
<g id="n338"><circle cx="253" cy="287" r="4"/></g>
<g id="n339"><circle cx="240" cy="283" r="4"/></g>
<g id="n340"><circle cx="225" cy="290" r="4"/></g>
<g id="n341"><circle cx="233" cy="298" r="3"/></g>
<g id="n342"><circle cx="228" cy="310" r="4"/></g>
<g id="n343"><circle cx="260" cy="302" r="3"/></g>
<g id="n344"><circle cx="222" cy="320" r="5"/></g>
<g id="n345"><circle cx="255" cy="333" r="3"/></g>
<g id="n346"><circle cx="203" cy="328" r="3"/></g>
<g id="n347"><circle cx="213" cy="350" r="3"/></g>
<g id="n348"><circle cx="225" cy="355" r="3"/></g>
<g id="n349"><circle cx="240" cy="350" r="3"/></g>
<g id="n350"><circle cx="243" cy="362" r="5"/></g>
<g id="n351"><circle cx="215" cy="358" r="3"/></g>
<g id="n352"><circle cx="188" cy="338" r="5"/></g>
<g id="n353"><circle cx="207" cy="337" r="4"/></g>
<g id="n354"><circle cx="192" cy="380" r="5"/></g>
<g id="n355"><circle cx="213" cy="375" r="5"/></g>
<g id="n356"><circle cx="175" cy="397" r="5"/></g>
<g id="n357"><circle cx="163" cy="407" r="4"/></g>
<g id="n358"><circle cx="182" cy="407" r="3"/></g>
<g id="n359"><circle cx="187" cy="398" r="3"/></g>
<g id="n360"><circle cx="157" cy="387" r="4"/></g>
<g id="n361"><circle cx="195" cy="397" r="5"/></g>
<g id="n362"><circle cx="173" cy="377" r="4"/></g>
<g id="n363"><circle cx="193" cy="433" r="4"/></g>
<g id="n364"><circle cx="185" cy="433" r="3"/></g>
<g id="n365"><circle cx="415" cy="192" r="5"/></g>
<g id="n366"><circle cx="427" cy="183" r="4"/></g>
<g id="n367"><circle cx="400" cy="185" r="5"/></g>
<g id="n368"><circle cx="375" cy="192" r="5"/></g>
<g id="n369"><circle cx="340" cy="193" r="4"/></g>
<g id="n370"><circle cx="322" cy="203" r="5"/></g>
<g id="n371"><circle cx="322" cy="193" r="4"/></g>
<g id="n372"><circle cx="305" cy="202" r="4"/></g>
<g id="n373"><circle cx="293" cy="202" r="4"/></g>
<g id="n374"><circle cx="282" cy="227" r="5"/></g>
<g id="n375"><circle cx="397" cy="240" r="5"/></g>
<g id="n376"><circle cx="497" cy="193" r="5"/></g>
<g id="n377"><circle cx="503" cy="203" r="3"/></g>
<g id="n378"><circle cx="472" cy="212" r="5"/></g>
<g id="n379"><circle cx="482" cy="215" r="4"/></g>
<g id="n380"><circle cx="450" cy="220" r="4"/></g>
<g id="n381"><circle cx="457" cy="203" r="3"/></g>
<g id="n382"><circle cx="453" cy="182" r="5"/></g>
<g id="n383"><circle cx="505" cy="173" r="5"/></g>
<g id="n384"><circle cx="520" cy="202" r="4"/></g>
<g id="n385"><circle cx="563" cy="212" r="5"/></g>
<g id="n386"><circle cx="572" cy="207" r="5"/></g>
<g id="n387"><circle cx="575" cy="217" r="3"/></g>
<g id="n388"><circle cx="562" cy="222" r="4"/></g>
<g id="n389"><circle cx="558" cy="233" r="3"/></g>
<g id="n390"><circle cx="573" cy="237" r="3"/></g>
<g id="n391"><circle cx="590" cy="217" r="5"/></g>
<g id="n392"><circle cx="598" cy="202" r="4"/></g>
<g id="n393"><circle cx="590" cy="233" r="4"/></g>
<g id="n394"><circle cx="595" cy="242" r="3"/></g>
<g id="n395"><circle cx="598" cy="248" r="3"/></g>
<g id="n396"><circle cx="603" cy="260" r="4"/></g>
<g id="n397"><circle cx="608" cy="235" r="5"/></g>
<g id="n398"><circle cx="618" cy="253" r="5"/></g>
<g id="n399"><circle cx="630" cy="268" r="5"/></g>
<g id="n400"><circle cx="620" cy="268" r="4"/></g>
<g id="n401"><circle cx="628" cy="227" r="5"/></g>
<g id="n402"><circle cx="648" cy="267" r="5"/></g>
<g id="n403"><circle cx="642" cy="277" r="5"/></g>
<g id="n404"><circle cx="640" cy="285" r="4"/></g>
<g id="n405"><circle cx="633" cy="293" r="4"/></g>
<g id="n406"><circle cx="645" cy="300" r="5"/></g>
<g id="n407"><circle cx="662" cy="278" r="5"/></g>
<g id="n408"><circle cx="565" cy="277" r="5"/></g>
<g id="n409"><circle cx="595" cy="278" r="5"/></g>
<g id="n410"><circle cx="600" cy="275" r="4"/></g>
<g id="n411"><circle cx="605" cy="273" r="3"/></g>
<g id="n412"><circle cx="608" cy="285" r="5"/></g>
<g id="n413"><circle cx="617" cy="293" r="5"/></g>
<g id="n414"><circle cx="638" cy="312" r="5"/></g>
<g id="n415"><circle cx="655" cy="315" r="4"/></g>
<g id="n416"><circle cx="672" cy="342" r="4"/></g>
<g id="n417"><circle cx="670" cy="385" r="4"/></g>
<g id="n418"><circle cx="678" cy="377" r="4"/></g>
<g id="n419"><circle cx="683" cy="390" r="3"/></g>
<g id="n420"><circle cx="695" cy="358" r="4"/></g>
<g id="n421"><circle cx="670" cy="412" r="3"/></g>
<g id="n422"><circle cx="703" cy="425" r="3"/></g>
<g id="n423"><circle cx="707" cy="397" r="5"/></g>
<g id="n424"><circle cx="712" cy="407" r="5"/></g>
<g id="n425"><circle cx="718" cy="417" r="5"/></g>
<g id="n426"><circle cx="693" cy="405" r="5"/></g>
<g id="n427"><circle cx="702" cy="447" r="5"/></g>
<g id="n428"><circle cx="728" cy="478" r="5"/></g>
<g id="n429"><circle cx="712" cy="478" r="5"/></g>
<g id="n430"><circle cx="703" cy="473" r="4"/></g>
<g id="n431"><circle cx="692" cy="488" r="5"/></g>
<g id="n432"><circle cx="685" cy="507" r="3"/></g>
<g id="n433"><circle cx="697" cy="520" r="5"/></g>
<g id="n434"><circle cx="683" cy="522" r="5"/></g>
<g id="n435"><circle cx="688" cy="530" r="5"/></g>
<g id="n436"><circle cx="682" cy="537" r="5"/></g>
<g id="n437"><circle cx="675" cy="538" r="3"/></g>
<g id="n438"><circle cx="678" cy="547" r="4"/></g>
<g id="n439"><circle cx="653" cy="508" r="4"/></g>
<g id="n440"><circle cx="663" cy="520" r="4"/></g>
<g id="n441"><circle cx="652" cy="550" r="5"/></g>
<g id="n442"><circle cx="665" cy="575" r="4"/></g>
<g id="n443"><circle cx="648" cy="575" r="4"/></g>
<g id="n444"><circle cx="650" cy="585" r="3"/></g>
<g id="n445"><circle cx="645" cy="605" r="3"/></g>
<g id="n446"><circle cx="637" cy="607" r="4"/></g>
<g id="n447"><circle cx="640" cy="615" r="5"/></g>
<g id="n448"><circle cx="627" cy="613" r="4"/></g>
<g id="n449"><circle cx="617" cy="613" r="4"/></g>
<g id="n450"><circle cx="612" cy="607" r="3"/></g>
<g id="n451"><circle cx="595" cy="615" r="3"/></g>
<g id="n452"><circle cx="592" cy="623" r="4"/></g>
<g id="n453"><circle cx="577" cy="615" r="5"/></g>
<g id="n454"><circle cx="555" cy="622" r="4"/></g>
<g id="n455"><circle cx="563" cy="635" r="3"/></g>
<g id="n456"><circle cx="565" cy="643" r="3"/></g>
<g id="n457"><circle cx="605" cy="643" r="5"/></g>
<g id="n458"><circle cx="592" cy="653" r="5"/></g>
<g id="n459"><circle cx="602" cy="653" r="4"/></g>
<g id="n460"><circle cx="573" cy="680" r="5"/></g>
<g id="n461"><circle cx="543" cy="677" r="5"/></g>
<g id="n462"><circle cx="543" cy="650" r="4"/></g>
<g id="n463"><circle cx="530" cy="675" r="5"/></g>
<g id="n464"><circle cx="517" cy="657" r="5"/></g>
<g id="n465"><circle cx="507" cy="642" r="5"/></g>
<g id="n466"><circle cx="487" cy="688" r="5"/></g>
<g id="n467"><circle cx="503" cy="685" r="5"/></g>
<g id="n468"><circle cx="470" cy="707" r="4"/></g>
<g id="n469"><circle cx="453" cy="713" r="5"/></g>
</g>
</svg>
